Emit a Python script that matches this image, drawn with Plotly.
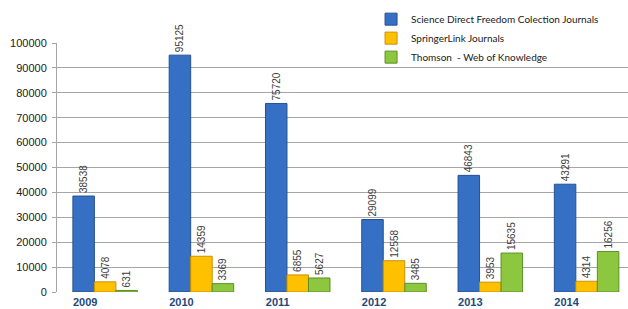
import plotly.graph_objects as go

years = ["2009", "2010", "2011", "2012", "2013", "2014"]
science_direct = [38538, 95125, 75720, 29099, 46843, 43291]
springer = [4078, 14359, 6855, 12558, 3953, 4314]
thomson = [631, 3369, 5627, 3485, 15635, 16256]
series_names = ["Science Direct Freedom Colection Journals", "SpringerLink Journals", "Thomson  - Web of Knowledge"]
y_ticks = list(range(0, 100001, 10000))

colors = ["#3570C4", "#FFC000", "#8DC63F"]
edges = ["#24518F", "#C79300", "#5E8F28"]

fig = go.Figure()
for name, vals, c, e in zip(series_names, [science_direct, springer, thomson], colors, edges):
    fig.add_trace(go.Bar(
        x=years, y=vals, name=name,
        marker=dict(color=c, line=dict(color=e, width=1)),
        text=[str(v) for v in vals], textposition="outside", textangle=-90,
        constraintext="none",
        textfont=dict(family="Liberation Sans", size=10, color="#404040"),
        cliponaxis=False,
    ))

fig.update_layout(
    width=628, height=309,
    margin=dict(l=57, r=0, t=43, b=17, autoexpand=False),
    paper_bgcolor="white", plot_bgcolor="white",
    barmode="group", bargap=0.33, bargroupgap=0,
    showlegend=True,
    legend=dict(x=0.55, y=0.985, yref="container", xanchor="left", yanchor="top",
                bgcolor="rgba(0,0,0,0)", font=dict(family="Lato", size=10, color="#202020"),
                itemwidth=30, tracegroupgap=0),
    xaxis=dict(type="category", range=[-0.5, 5.43], showticklabels=True, showgrid=False,
               showline=False, zeroline=False, ticks="", ticklabelshift=-20, ticklabelstandoff=2,
               tickfont=dict(family="Liberation Sans", size=11, color="#1F497D", weight="bold")),
    yaxis=dict(range=[0, 100000], tickvals=y_ticks, ticktext=[str(v) for v in y_ticks],
               showgrid=True, gridcolor="#A6A6A6", gridwidth=1,
               showline=True, linecolor="#A6A6A6", ticks="outside", ticklen=4, tickcolor="#A6A6A6",
               ticklabelstandoff=3,
               tickfont=dict(family="Liberation Sans", size=11, color="#202020"), zeroline=False),
    font=dict(family="Liberation Sans"),
)

fig.write_html("out.html", config={"displayModeBar": False},
               post_script="document.body.style.margin='0';document.body.style.overflow='hidden';")
